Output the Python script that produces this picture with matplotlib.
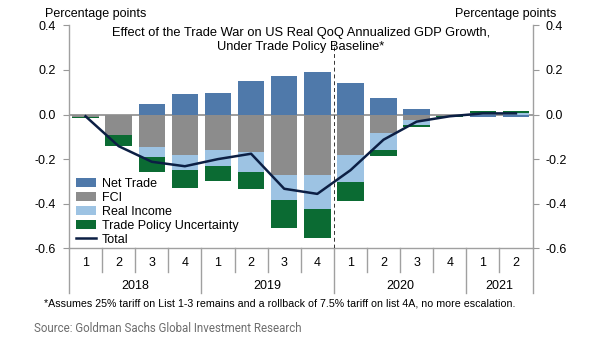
import matplotlib
matplotlib.use("Agg")
import matplotlib.pyplot as plt
import numpy as np

plt.rcParams['font.family'] = ['Liberation Sans', 'DejaVu Sans']

# quarters 2018Q1 .. 2021Q2
quarters = ["1", "2", "3", "4", "1", "2", "3", "4", "1", "2", "3", "4", "1", "2"]
years = ["2018", "2019", "2020", "2021"]
year_len = [4, 4, 4, 2]

net_trade = [-0.004, 0.0, 0.045, 0.092, 0.096, 0.152, 0.173, 0.190, 0.140, 0.074, 0.023, 0.0, -0.012, -0.012]
fci = [-0.008, -0.093, -0.146, -0.181, -0.157, -0.169, -0.273, -0.273, -0.181, -0.081, -0.026, -0.006, 0.0, 0.0]
real_income = [0.0, 0.0, -0.045, -0.069, -0.072, -0.090, -0.111, -0.153, -0.120, -0.076, -0.019, 0.0, 0.006, 0.006]
tpu = [-0.005, -0.049, -0.066, -0.081, -0.068, -0.077, -0.125, -0.127, -0.087, -0.031, -0.011, -0.006, 0.010, 0.010]
total = [-0.008, -0.142, -0.212, -0.232, -0.200, -0.176, -0.333, -0.356, -0.250, -0.113, -0.032, -0.008, 0.005, 0.005]

series = [("Net Trade", net_trade, "#4f79aa"),
          ("FCI", fci, "#8c8c8c"),
          ("Real Income", real_income, "#9dc3e3"),
          ("Trade Policy Uncertainty", tpu, "#0b6b33")]

fig = plt.figure(figsize=(6.05, 3.41), dpi=100)
ax = fig.add_axes([69/605, 1-248.3/341, 463.5/605, 223/341])

x = np.arange(len(quarters))
pos_base = np.zeros(len(x))
neg_base = np.zeros(len(x))
handles = []
for name, vals, col in series:
    v = np.array(vals)
    bottom = np.where(v >= 0, pos_base, neg_base)
    b = ax.bar(x, v, width=0.8, bottom=bottom, color=col, label=name, zorder=2)
    handles.append(b)
    pos_base += np.clip(v, 0, None)
    neg_base += np.clip(v, None, 0)

line, = ax.plot(x, total, color="#0c1f44", lw=1.8, label="Total", zorder=4)
handles.append(line)

ax.axhline(0, color="#8c8c8c", lw=1.2, zorder=1)
ax.plot([7.5, 7.5], [-0.6, 0.32], color="#333333", lw=0.7, ls=(0, (4, 3)), zorder=3)

ax.set_xlim(-0.5, len(x) - 0.5)
ax.set_ylim(-0.6, 0.4)
ax.set_yticks([-0.6, -0.4, -0.2, 0.0, 0.2, 0.4])
ax.set_yticklabels(["-0.6", "-0.4", "-0.2", "0.0", "0.2", "0.4"])
ax.set_xticks([])
ax.tick_params(axis="y", left=True, right=True, labelleft=True, labelright=True,
               direction="out", length=4, color="#999999", labelsize=9, pad=5.5)
ax.spines["top"].set_visible(False)
for s in ["left", "right", "bottom"]:
    ax.spines[s].set_color("#a0a0a0")
    ax.spines[s].set_linewidth(1.0)

# quarter / year axis underneath
tr = ax.get_xaxis_transform()
for i, q in enumerate(quarters):
    ax.text(i, -0.067, q, transform=tr, ha="center", va="center", fontsize=9)
start = 0
bounds = [-0.5]
for y, n in zip(years, year_len):
    ax.text(start + (n - 1) / 2, -0.169, y, transform=tr, ha="center", va="center", fontsize=9)
    for k in range(1, n):
        ax.plot([start + k - 0.5] * 2, [0, -0.106], transform=tr, color="#a0a0a0",
                lw=1.0, clip_on=False)
    start += n
    bounds.append(start - 0.5)
for b in bounds:
    ax.plot([b, b], [0, -0.2], transform=tr, color="#a0a0a0", lw=1.0, clip_on=False)

ax.legend(handles=handles, loc="upper left", bbox_to_anchor=(0.015, 0.315), frameon=False,
          fontsize=9, borderpad=0, borderaxespad=0, labelspacing=0.15, handlelength=1.6,
          handletextpad=0.5)

fig.text(300.7/605, 1-33/341, "Effect of the Trade War on US Real QoQ Annualized GDP Growth,",
         ha="center", va="center", fontsize=9.3)
fig.text(300.7/605, 1-47/341, "Under Trade Policy Baseline*", ha="center", va="center", fontsize=9.3)
fig.text(45/605, 1-14/341, "Percentage points", ha="left", va="center", fontsize=9)
fig.text(556/605, 1-14/341, "Percentage points", ha="right", va="center", fontsize=9)
fig.text(44/605, 1-303/341,
         "*Assumes 25% tariff on List 1-3 remains and a rollback of 7.5% tariff on list 4A, no more escalation.",
         ha="left", va="center", fontsize=7.7)
fig.text(34/605, 1-329/341, "Source: Goldman Sachs Global Investment Research", ha="left",
         va="center", fontsize=8.3, color="#6d6d6d", family=["Roboto", "DejaVu Sans"])

fig.savefig("out.png", dpi=100)
